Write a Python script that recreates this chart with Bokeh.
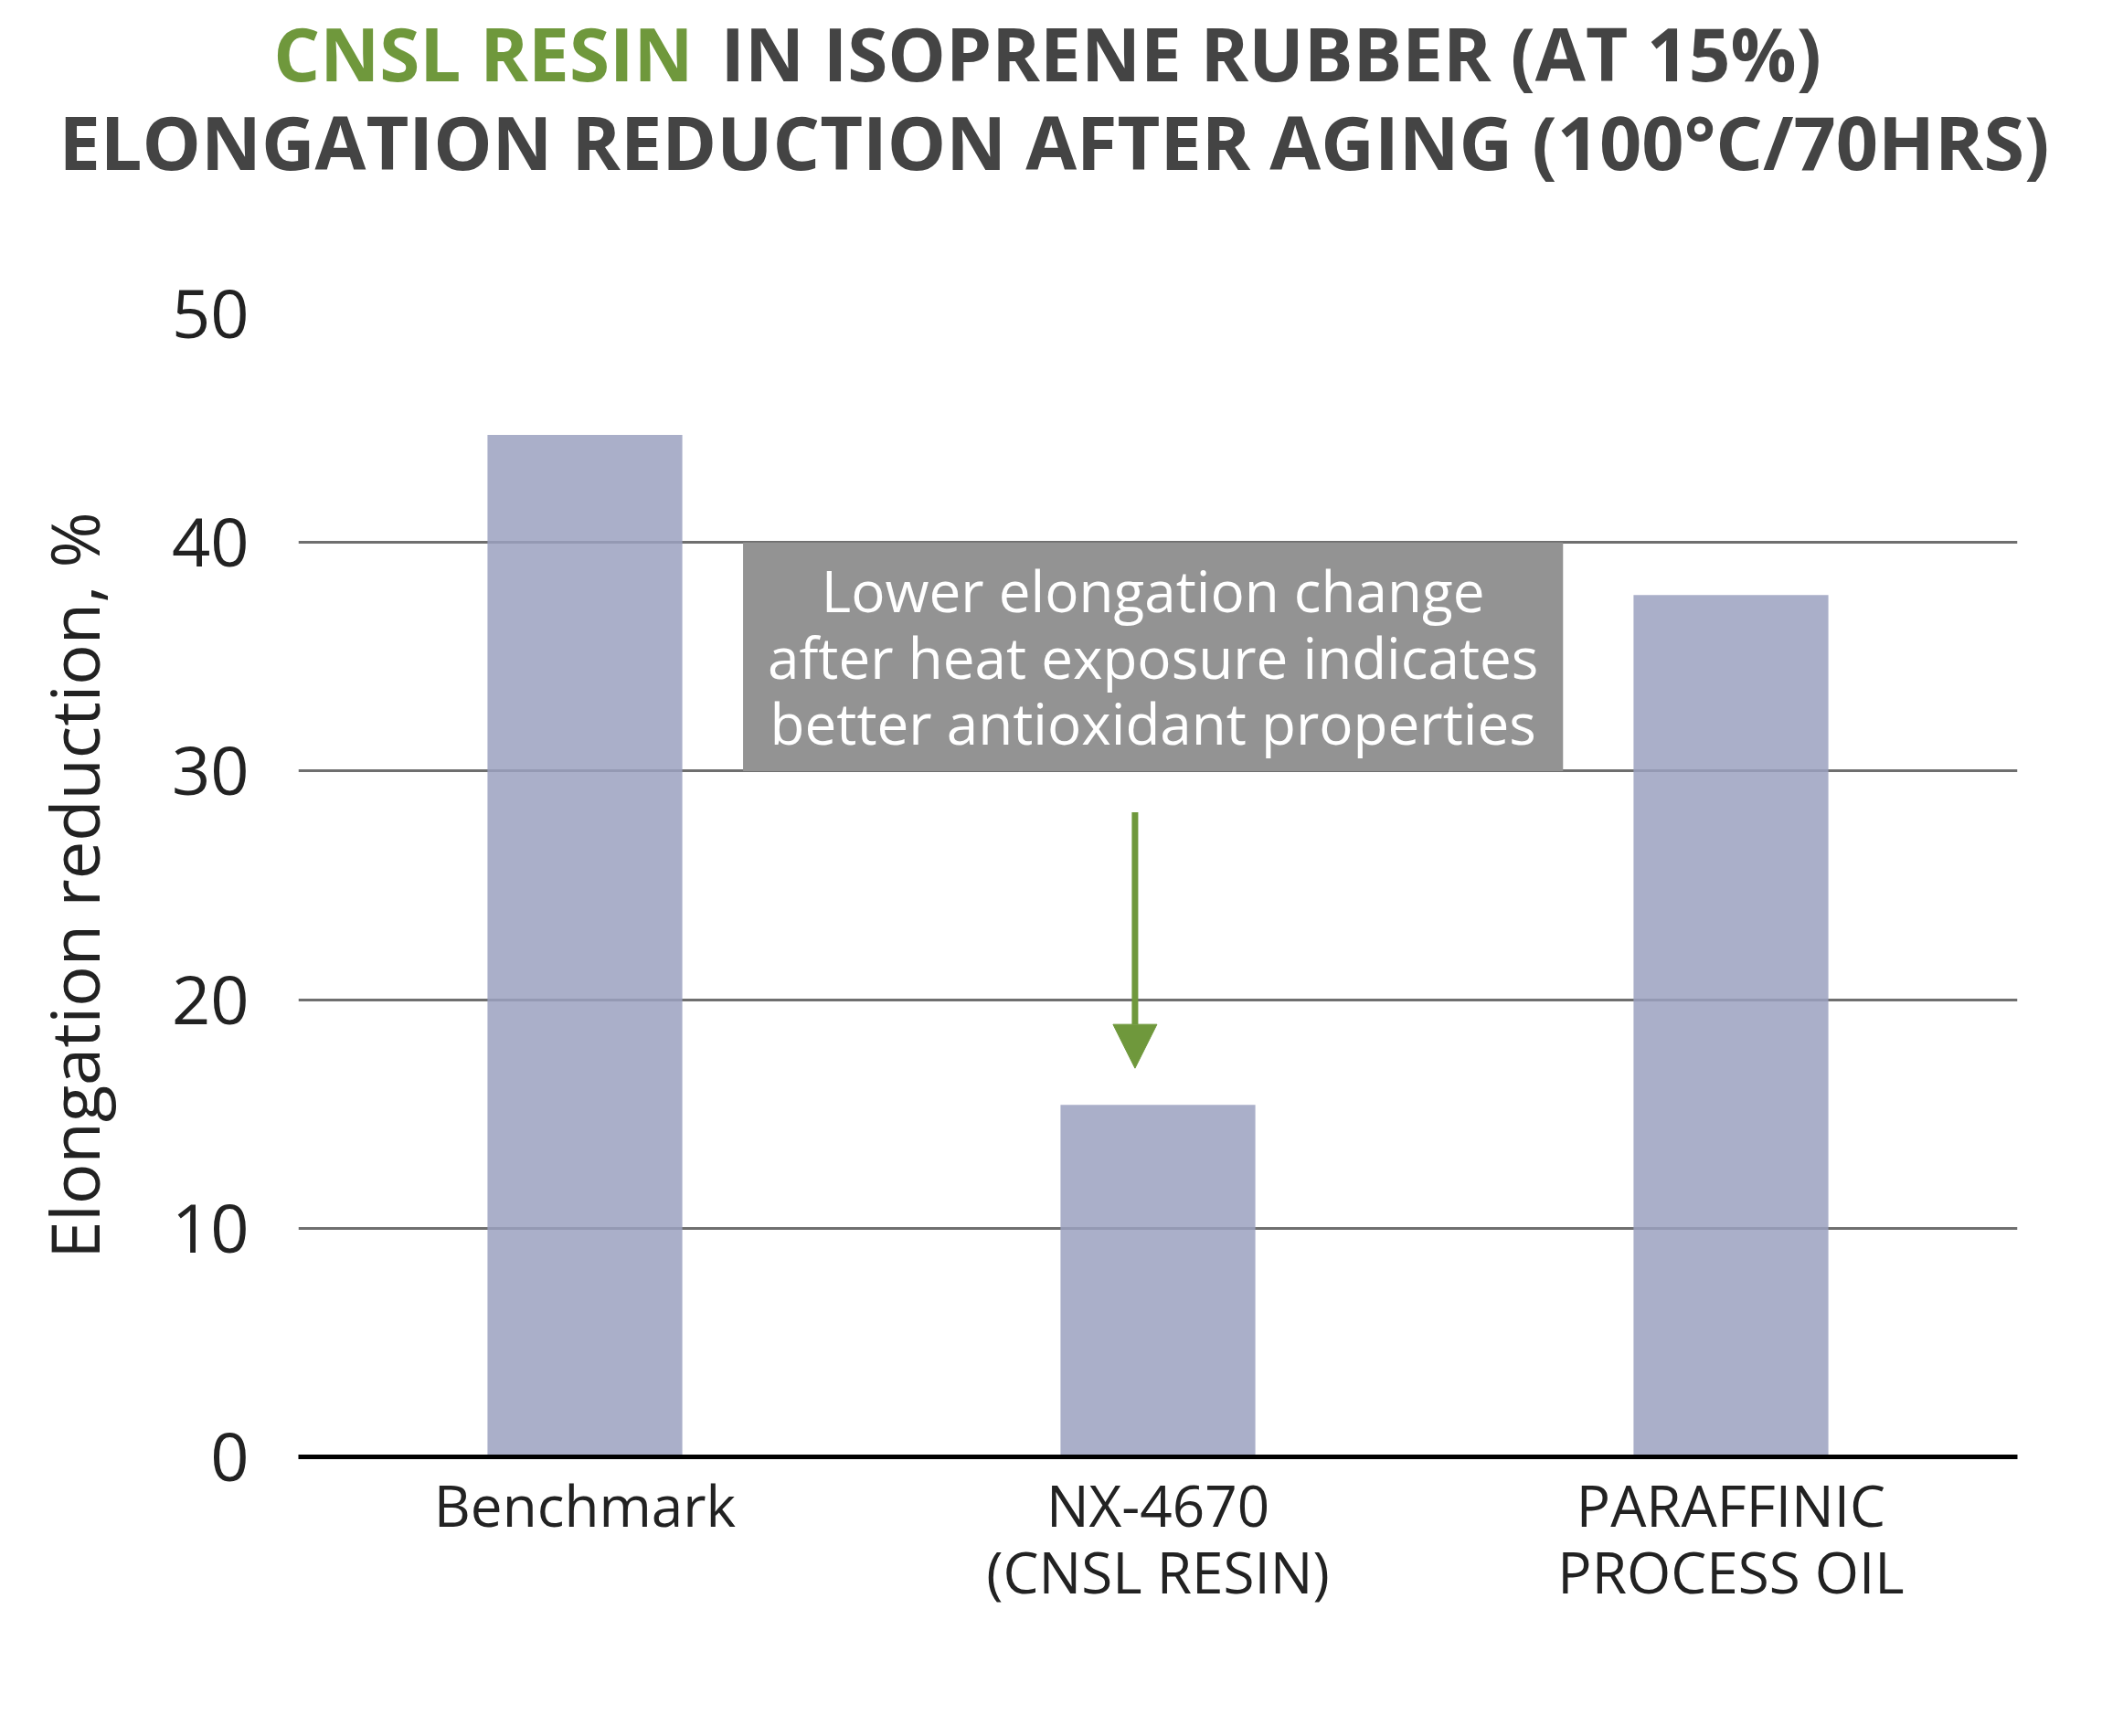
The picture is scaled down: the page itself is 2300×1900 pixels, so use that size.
from bokeh.plotting import figure
from bokeh.layouts import column
from bokeh.models import Range1d, FactorRange, BoxAnnotation, Label, Arrow, NormalHead, FixedTicker
from bokeh.core.properties import value
from bokeh.embed import file_html
from bokeh.resources import INLINE

# ---- data ----
categories = ["Benchmark", "NX-4670\n(CNSL RESIN)", "PARAFFINIC\nPROCESS OIL"]
elongation_reduction = [44.7, 15.4, 37.7]
y_ticks = [0, 10, 20, 30, 40, 50]
title_green = "CNSL RESIN"
title_line1_rest = "IN ISOPRENE RUBBER (AT 15%)"
title_line2 = "ELONGATION REDUCTION AFTER AGING (100°C/70HRS)"
y_label = "Elongation reduction, %"
note_text = "Lower elongation change\nafter heat exposure indicates\nbetter antioxidant properties"

FONT = "Open Sans"
GREEN = "#6F983C"
DARK = "#444444"
TEXT = "#222222"

W = 2300
TITLE_H = 240

# ---- title strip ----
t = figure(width=W, height=TITLE_H, x_range=Range1d(0, W), y_range=Range1d(TITLE_H, 0),
           min_border=0, output_backend="svg", toolbar_location=None)
t.frame_align = False
t.axis.visible = False
t.grid.visible = False
t.outline_line_color = None
t.text(x=[758], y=[57], text=[title_green], text_align="right", text_baseline="alphabetic",
       text_font=value(FONT), text_font_size="80px", text_font_style="bold", text_color=GREEN)
t.text(x=[788], y=[57], text=[title_line1_rest], text_align="left", text_baseline="alphabetic",
       text_font=value(FONT), text_font_size="80px", text_font_style="bold", text_color=DARK)
t.text(x=[1153], y=[154], text=[title_line2], text_align="center", text_baseline="alphabetic",
       text_font=value(FONT), text_font_size="81px", text_font_style="bold", text_color=DARK)

# ---- main chart ----
p = figure(
    x_range=FactorRange(*categories),
    y_range=Range1d(0, 50),
    frame_width=1881, frame_height=1251,
    min_border_left=326, min_border_right=93,
    min_border_top=343 - TITLE_H, min_border_bottom=306,
    output_backend="svg", toolbar_location=None,
    background_fill_color="white", border_fill_color="white",
)
p.outline_line_color = None

p.vbar(x=categories, top=elongation_reduction, width=0.34,
       fill_color="#9BA1C0", fill_alpha=0.85, line_color=None)

# grid
p.xgrid.grid_line_color = None
p.ygrid.grid_line_color = "#6F6F6F"
p.ygrid.grid_line_width = 3
p.yaxis.ticker = FixedTicker(ticks=y_ticks)

# y axis
p.yaxis.axis_line_color = None
p.yaxis.major_tick_line_color = None
p.yaxis.minor_tick_line_color = None
p.yaxis.major_label_standoff = 48
p.yaxis.major_label_text_font = FONT
p.yaxis.major_label_text_font_size = "74px"
p.yaxis.major_label_text_color = TEXT
p.yaxis.axis_label = y_label
p.yaxis.axis_label_text_font = FONT
p.yaxis.axis_label_text_font_size = "74px"
p.yaxis.axis_label_text_font_style = "normal"
p.yaxis.axis_label_text_color = TEXT
p.yaxis.axis_label_standoff = 54

# x axis
p.xaxis.axis_line_color = "black"
p.xaxis.axis_line_width = 5
p.xaxis.major_tick_line_color = None
p.xaxis.minor_tick_line_color = None
p.xaxis.major_label_standoff = 4
p.xaxis.major_label_text_font = FONT
p.xaxis.major_label_text_font_size = "62px"
p.xaxis.major_label_text_color = TEXT
p.xaxis.major_label_text_line_height = 0.88

# annotation box
box = BoxAnnotation(left=0.776, right=2.207, bottom=30, top=40,
                    fill_color="#939393", fill_alpha=1.0, line_color=None)
p.add_layout(box)
p.add_layout(Label(x=(0.776 + 2.207) / 2, y=35, text=note_text,
                   text_align="center", text_baseline="middle",
                   text_font=FONT, text_font_size="62px", text_color="white",
                   text_line_height=0.865))

# arrow
p.add_layout(Arrow(x_start=1.46, y_start=28.2, x_end=1.46, y_end=17.0,
                   line_color=GREEN, line_width=7,
                   end=NormalHead(size=48, fill_color=GREEN, line_color=GREEN, line_width=1)))

layout = column(t, p, spacing=0)
open("out.html", "w").write(file_html(layout, INLINE))
